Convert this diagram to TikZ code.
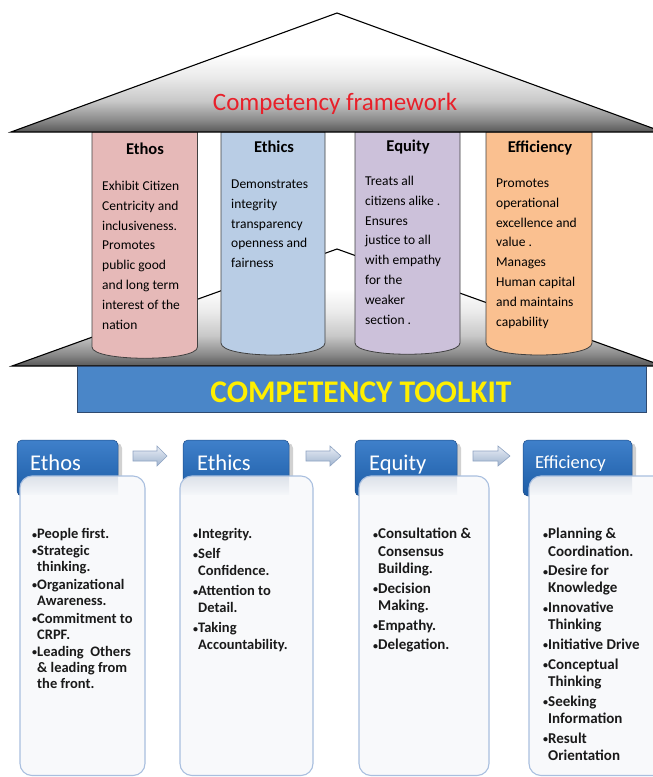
\documentclass[tikz,border=0pt]{standalone}
\usepackage{fontspec}
\setmainfont{Carlito}
\definecolor{rD}{HTML}{585858}
\definecolor{rC}{HTML}{8A8A8A}
\definecolor{rB}{HTML}{C8C8C8}
\definecolor{rA}{HTML}{EAEAEA}
\definecolor{ethosC}{HTML}{E6B9B8}
\definecolor{ethicsC}{HTML}{B9CDE5}
\definecolor{equityC}{HTML}{CCC1DA}
\definecolor{effC}{HTML}{FAC090}
\definecolor{pillarLine}{HTML}{404040}
\definecolor{tkFill}{HTML}{4A86C8}
\definecolor{tkLine}{HTML}{2F4A70}
\definecolor{tkText}{HTML}{FFEF00}
\definecolor{frameRed}{HTML}{E8202A}
\definecolor{tabT}{HTML}{3F80CA}
\definecolor{tabB}{HTML}{1C5CA6}
\definecolor{tabLine}{HTML}{1F4E8A}
\definecolor{boxFill}{HTML}{F8F9FB}
\definecolor{boxLine}{HTML}{A9BFDF}
\definecolor{bandT}{HTML}{DCE1E9}
\definecolor{bandB}{HTML}{F4F6F9}
\definecolor{arrT}{HTML}{E9EEF5}
\definecolor{arrB}{HTML}{9FB3CF}
\definecolor{arrLine}{HTML}{8EA3C2}
\definecolor{listText}{HTML}{1A1A1A}
\pgfdeclareverticalshading{roofsh}{100bp}{color(0bp)=(rD); color(25bp)=(rD); color(30bp)=(rC); color(38bp)=(rB); color(48bp)=(rA); color(58bp)=(white); color(100bp)=(white)}
\newcommand\bul{\makebox[5pt][l]{\fontsize{10}{10}\selectfont\raisebox{0.6pt}{•}}}
\newcommand\ind{\hspace*{5pt}}
\begin{document}
\begin{tikzpicture}[x=1pt,y=-1pt,
  roofsty/.style={shading=roofsh, draw=black, line width=1.1pt},
  pillarsty/.style={draw=pillarLine, line width=0.8pt},
  ptitle/.style={anchor=base, inner sep=0pt, font=\fontsize{16.5}{19}\selectfont\bfseries},
  pbody/.style={anchor=north west, inner sep=0pt, align=left, font=\fontsize{13.5}{19.9}\selectfont},
  tabsty/.style={top color=tabT, bottom color=tabB, draw=tabLine, line width=0.5pt, rounded corners=5pt},
  tabshadow/.style={fill=black, opacity=0.18, rounded corners=5pt},
  tabtxt/.style={anchor=base west, inner sep=0pt, text=white, font=\fontsize{22.5}{26}\selectfont},
  boxsty/.style={draw=boxLine, line width=1.1pt, rounded corners=12pt},
  liststy/.style={anchor=north west, inner sep=0pt, align=left, text=listText, font=\fontsize{14.5}{16.2}\selectfont\bfseries},
  arrsty/.style={top color=arrT, bottom color=arrB, draw=arrLine, line width=0.6pt}
]
\useasboundingbox (0,0) rectangle (653,777);
\clip (0,0) rectangle (653,777);
\fill[white] (0,0) rectangle (653,777);

% lower (back) roof
\shade[roofsty] (12,366) -- (337,249) -- (663,366) -- cycle;

% pillars
\path[pillarsty, fill=ethosC] (92,132) -- (92,347) .. controls (92,362) and (197.5,362) .. (197.5,347) -- (197.5,132) -- cycle;
\path[pillarsty, fill=ethicsC] (221,132) -- (221,343) .. controls (221,359) and (325,359) .. (325,343) -- (325,132) -- cycle;
\path[pillarsty, fill=equityC] (355,132) -- (355,343) .. controls (355,358) and (460,358) .. (460,343) -- (460,132) -- cycle;
\path[pillarsty, fill=effC] (486,132) -- (486,343) .. controls (486,359) and (592,359) .. (592,343) -- (592,132) -- cycle;

% upper roof
\shade[roofsty] (11,132) -- (337,13) -- (663,132) -- cycle;
\node[anchor=base, inner sep=0pt, text=frameRed, font=\fontsize{25}{30}\selectfont] (frame) at (335,110) {Competency framework};

% pillar titles
\node[ptitle] (pt1) at (145,154) {Ethos};
\node[ptitle] (pt2) at (274,152.5) {Ethics};
\node[ptitle] (pt3) at (408,151) {Equity};
\node[ptitle] (pt4) at (540,152.5) {Efficiency};

% pillar bodies
\node[pbody] (pb1) at (102,176.1) {\strut Exhibit Citizen\\Centricity and\\inclusiveness.\\Promotes\\public good\\and long term\\interest of the\\nation};
\node[pbody] (pb2) at (231,174.1) {\strut Demonstrates\\integrity\\transparency\\openness and\\fairness};
\node[pbody] (pb3) at (365,171.1) {\strut Treats all\\citizens alike .\\Ensures\\justice to all\\with empathy\\for the\\weaker\\section .};
\node[pbody] (pb4) at (496,173.1) {\strut Promotes\\operational\\excellence and\\value .\\Manages\\Human capital\\and maintains\\capability};

% toolkit
\draw[fill=tkFill, draw=tkLine, line width=0.9pt] (77,366) rectangle (646,412);
\node[anchor=base, inner sep=0pt, text=tkText, font=\fontsize{31.5}{36}\selectfont\bfseries] (tk) at (361,402.5) {COMPETENCY TOOLKIT};

% ---------- bottom section ----------
% tabs (with shadows)
\fill[tabshadow] (20,443) rectangle (122,497);
\fill[tabshadow] (186,443) rectangle (293,497);
\fill[tabshadow] (358,443) rectangle (461,497);
\fill[tabshadow] (526,443) rectangle (636,497);
\shade[tabsty] (17,440) rectangle (118,496);
\shade[tabsty] (183,440) rectangle (289,496);
\shade[tabsty] (355,440) rectangle (457,496);
\shade[tabsty] (523,440) rectangle (632,496);
\node[tabtxt] (t1) at (30,470) {Ethos};
\node[tabtxt] (t2) at (197,470) {Ethics};
\node[tabtxt] (t3) at (369,470) {Equity};
\node[tabtxt, font=\fontsize{18.5}{22}\selectfont] (t4) at (535,468) {Efficiency};

% block arrows
\shade[arrsty] (133,451) -- (157,451) -- (157,446) -- (167,456) -- (157,466) -- (157,461) -- (133,461) -- cycle;
\shade[arrsty] (306,451) -- (330,451) -- (330,446) -- (341,456) -- (330,466) -- (330,461) -- (306,461) -- cycle;
\shade[arrsty] (473,451) -- (498,451) -- (498,446) -- (510,456) -- (498,466) -- (498,461) -- (473,461) -- cycle;

% boxes
\fill[boxFill, rounded corners=12pt] (20,476) rectangle (145,775.5);
\fill[boxFill, rounded corners=12pt] (180,476) rectangle (313,775.5);
\fill[boxFill, rounded corners=12pt] (359,476) rectangle (489,775.5);
\fill[boxFill, rounded corners=12pt] (529,476) rectangle (668,775.5);
\begin{scope}
\clip[rounded corners=12pt] (20,476) rectangle (145,775.5);
\shade[top color=bandT, bottom color=bandB] (20,476) rectangle (118,494);
\end{scope}
\begin{scope}
\clip[rounded corners=12pt] (180,476) rectangle (313,775.5);
\shade[top color=bandT, bottom color=bandB] (180,476) rectangle (289,494);
\end{scope}
\begin{scope}
\clip[rounded corners=12pt] (359,476) rectangle (489,775.5);
\shade[top color=bandT, bottom color=bandB] (359,476) rectangle (457,494);
\end{scope}
\begin{scope}
\clip[rounded corners=12pt] (529,476) rectangle (668,775.5);
\shade[top color=bandT, bottom color=bandB] (529,476) rectangle (632,494);
\end{scope}
\draw[boxsty] (20,476) rectangle (145,775.5);
\draw[boxsty] (180,476) rectangle (313,775.5);
\draw[boxsty] (359,476) rectangle (489,775.5);
\draw[boxsty] (529,476) rectangle (668,775.5);

% lists
\node[liststy] (l1) at (32,527.2) {\strut\bul People first.\\[0.5pt]\bul Strategic\\\ind thinking.\\[1.5pt]\bul Organizational\\\ind Awareness.\\[1.5pt]\bul Commitment to\\\ind CRPF.\\[0.5pt]\bul Leading\ \ Others\\\ind \& leading from\\\ind the front.};
\node[liststy, font=\fontsize{14.5}{17}\selectfont\bfseries] (l2) at (193,526.6) {\strut\bul Integrity.\\[3pt]\bul Self\\\ind Confidence.\\[3pt]\bul Attention to\\\ind Detail.\\[3pt]\bul Taking\\\ind Accountability.};
\node[liststy, font=\fontsize{15}{17.5}\selectfont\bfseries] (l3) at (373,526.3) {\strut\bul Consultation \&\\\ind Consensus\\\ind Building.\\[2pt]\bul Decision\\\ind Making.\\[2pt]\bul Empathy.\\[2pt]\bul Delegation.};
\node[liststy, font=\fontsize{15}{17.2}\selectfont\bfseries] (l4) at (543,526.6) {\strut\bul Planning \&\\\ind Coordination.\\[2.5pt]\bul Desire for\\\ind Knowledge\\[2.5pt]\bul Innovative\\\ind Thinking\\[2.5pt]\bul Initiative Drive\\[2.5pt]\bul Conceptual\\\ind Thinking\\[2.5pt]\bul Seeking\\\ind Information\\[2.5pt]\bul Result\\\ind Orientation};
\end{tikzpicture}
\end{document}
